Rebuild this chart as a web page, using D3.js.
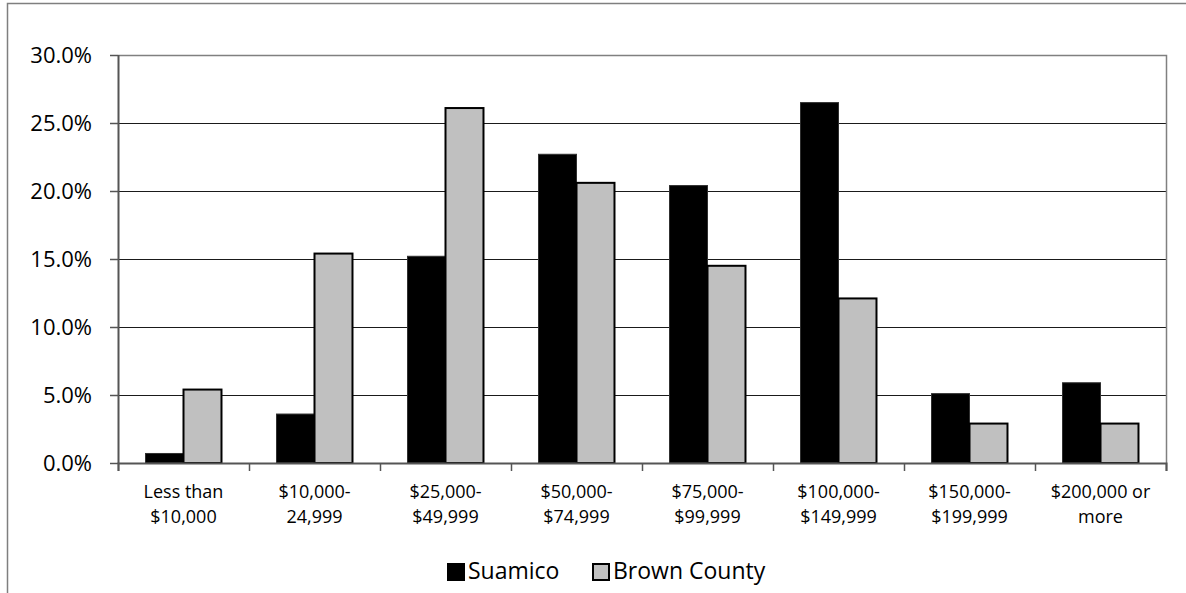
<!DOCTYPE html>
<html>
<head>
<meta charset="utf-8">
<script src="https://cdn.jsdelivr.net/npm/d3@7"></script>
<style>
  html, body { margin: 0; padding: 0; background: #fff; }
  svg { display: block; font-family: "Open Sans", "Noto Sans", sans-serif; }
</style>
</head>
<body>
<svg id="chart" width="1186" height="593"></svg>
<script>
const categories = [
  ["Less than", "$10,000"],
  ["$10,000-", "24,999"],
  ["$25,000-", "$49,999"],
  ["$50,000-", "$74,999"],
  ["$75,000-", "$99,999"],
  ["$100,000-", "$149,999"],
  ["$150,000-", "$199,999"],
  ["$200,000 or", "more"]
];
const seriesNames = ["Suamico", "Brown County"];
const suamico = [0.7, 3.6, 15.2, 22.7, 20.4, 26.5, 5.1, 5.9];
const brownCounty = [5.4, 15.4, 26.1, 20.6, 14.5, 12.1, 2.9, 2.9];
const yTicks = [0, 5, 10, 15, 20, 25, 30];
const seriesColors = ["#000000", "#c0c0c0"];

const svg = d3.select("#chart");
const W = 1186, H = 593;
const plot = { left: 118, right: 1166, top: 55, bottom: 463 };

// outer frame (extends beyond visible area on right/bottom)
svg.append("rect")
  .attr("x", 7.5).attr("y", 3.5)
  .attr("width", W + 20).attr("height", H + 20)
  .attr("fill", "none").attr("stroke", "#7f7f7f").attr("stroke-width", 1.5);

const catKeys = categories.map((c, i) => i);
const x0 = d3.scaleBand().domain(catKeys).range([plot.left, plot.right]).padding(0);
const groupW = x0.bandwidth() * 0.58;
const x1 = d3.scaleBand().domain([0, 1])
  .range([(x0.bandwidth() - groupW) / 2, (x0.bandwidth() + groupW) / 2]).padding(0);
const y = d3.scaleLinear().domain([0, 30]).range([plot.bottom, plot.top]);

// gridlines
svg.append("g")
  .selectAll("line")
  .data(yTicks.filter(t => t > 0 && t < 30))
  .join("line")
  .attr("x1", plot.left).attr("x2", plot.right)
  .attr("y1", d => Math.round(y(d)) + 0.5).attr("y2", d => Math.round(y(d)) + 0.5)
  .attr("stroke", "#1a1a1a").attr("stroke-width", 1);

// plot area border (top & right)
svg.append("path")
  .attr("d", `M${plot.left},${plot.top + 0.5}H${plot.right + 0.5}V${plot.bottom}`)
  .attr("fill", "none").attr("stroke", "#808080").attr("stroke-width", 1.5);

// bars
const data = categories.map((c, i) => ({ i, vals: [suamico[i], brownCounty[i]] }));
const groups = svg.append("g").selectAll("g")
  .data(data).join("g")
  .attr("transform", d => `translate(${x0(d.i)},0)`);
groups.selectAll("rect")
  .data(d => d.vals.map((v, s) => ({ v, s })))
  .join("rect")
  .attr("x", d => x1(d.s))
  .attr("width", x1.bandwidth())
  .attr("y", d => y(d.v))
  .attr("height", d => y(0) - y(d.v))
  .attr("fill", d => seriesColors[d.s])
  .attr("stroke", d => d.s === 0 ? "#303030" : "#000")
  .attr("stroke-width", d => d.s === 0 ? 1 : 2);

// y axis
const yAxis = svg.append("g")
  .attr("transform", `translate(${plot.left},0)`)
  .call(d3.axisLeft(y).tickValues(yTicks).tickSize(8).tickPadding(18)
    .tickFormat(d => d.toFixed(1) + "%"));
yAxis.select(".domain").attr("stroke", "#555").attr("stroke-width", 2)
  .attr("d", `M0.5,${plot.top}V${plot.bottom}`);
yAxis.selectAll(".tick line").attr("stroke", "#555").attr("stroke-width", 1.5);
yAxis.selectAll(".tick text").attr("font-size", 22).attr("fill", "#000")
  .attr("font-family", "Open Sans");

// x axis
const xTickScale = d3.scaleLinear().domain([0, categories.length]).range([plot.left, plot.right]);
const xAxis = svg.append("g")
  .attr("transform", `translate(0,${plot.bottom})`)
  .call(d3.axisBottom(xTickScale).tickValues(d3.range(0, categories.length + 1))
    .tickSize(8).tickFormat(""));
xAxis.select(".domain").attr("stroke", "#555").attr("stroke-width", 2);
xAxis.selectAll(".tick line").attr("stroke", "#555").attr("stroke-width", 1.5);

// x category labels
const lbl = svg.append("g").selectAll("text")
  .data(categories).join("text")
  .attr("x", (d, i) => x0(i) + x0.bandwidth() / 2)
  .attr("y", 498)
  .attr("text-anchor", "middle")
  .attr("font-size", 18)
  .attr("fill", "#000");
lbl.selectAll("tspan")
  .data(d => d).join("tspan")
  .attr("x", function () { return d3.select(this.parentNode).attr("x"); })
  .attr("dy", (d, j) => j === 0 ? 0 : 25)
  .text(d => d);

// legend
const legend = svg.append("g");
const legendItems = [
  { name: seriesNames[0], color: seriesColors[0], x: 447 },
  { name: seriesNames[1], color: seriesColors[1], x: 592 }
];
legendItems.forEach(it => {
  legend.append("rect")
    .attr("x", it.x + 1).attr("y", 564)
    .attr("width", 16).attr("height", 16)
    .attr("fill", it.color).attr("stroke", "#000").attr("stroke-width", 2);
  legend.append("text")
    .attr("x", it.x + 21).attr("y", 579)
    .attr("font-size", 23).attr("fill", "#000")
    .text(it.name);
});
</script>
</body>
</html>
